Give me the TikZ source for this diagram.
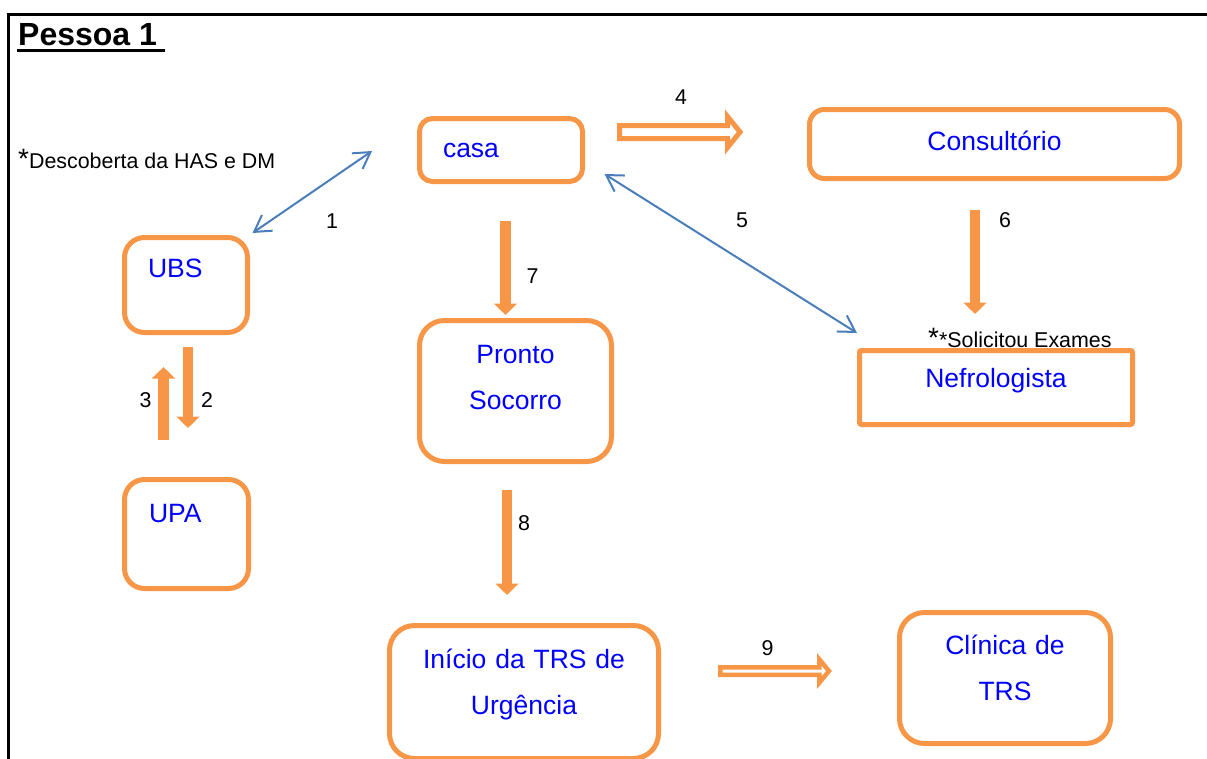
\documentclass[tikz,border=0pt]{standalone}
\usepackage{fontspec}
\setmainfont{Liberation Sans}
\usetikzlibrary{arrows.meta}
\definecolor{orng}{HTML}{F79646}
\definecolor{bluln}{HTML}{4A7EBB}
\definecolor{txtblue}{HTML}{0000FF}
\newcommand\boxfont{\fontsize{26.5}{46.5}\selectfont}
\newcommand\smfont{\fontsize{21.4}{25}\selectfont}
\newcommand\bigast{{\fontsize{28}{28}\selectfont*}}
\newcommand\titlefont{\fontsize{32}{36}\selectfont\bfseries}
\tikzset{
  box/.style={draw=orng, line width=5pt, text=txtblue, font=\boxfont, inner sep=0pt, text height=20pt},
  lbl/.style={font=\smfont, anchor=base, inner sep=0pt},
  blk/.style={draw=orng, line width=10.5pt, -{Triangle[length=11.5pt, width=22.5pt]}},
  blu/.style={draw=bluln, line width=2pt, {Straight Barb[length=16pt, width=19pt]}-{Straight Barb[length=16pt, width=19pt]}},
  hol/.style={draw=orng, fill=white, line join=miter},
}
\begin{document}
\begin{tikzpicture}[x=1pt, y=-1pt]
\useasboundingbox (0,0) rectangle (1207,758);
\begin{scope}
\clip (0,0) rectangle (1207,758);
% frame
\draw[line width=2.5pt] (8.3,760) -- (8.3,14.5) -- (1210,14.5);
% title
\node[font=\titlefont, anchor=base west, inner sep=0pt] (title) at (18,45) {Pessoa 1};
\coordinate (ul1) at (17,50);
\coordinate (ul2) at (165,50);
\draw[line width=3pt] (ul1) -- (ul2);
% note
\node[font=\smfont, anchor=base west, inner sep=0pt] (desc) at (18,168) {\bigast Descoberta da HAS e DM};
\node[font=\smfont, anchor=base west, inner sep=0pt] (sol) at (928,347) {\bigast*Solicitou Exames};
% boxes
\node[box, rounded corners=13pt, minimum width=163pt, minimum height=63pt, text width=116pt, align=left, text depth=6pt] (casa) at (501,150) {casa};
\node[box, rounded corners=15pt, minimum width=370pt, minimum height=69pt, text depth=8pt] (cons) at (994.5,144) {Consultório};
\node[box, rounded corners=20pt, minimum width=123pt, minimum height=95pt, text width=76pt, align=left, text depth=36pt] (ubs) at (186,285) {UBS};
\node[box, rounded corners=20pt, minimum width=124pt, minimum height=109pt, text width=75pt, align=left, text depth=44pt] (upa) at (186.5,534) {UPA};
\node[box, rounded corners=25pt, minimum width=192pt, minimum height=141pt, text width=170pt, align=center, text depth=76pt] (ps) at (515.5,391) {Pronto\\Socorro};
\node[box, rounded corners=2pt, minimum width=273pt, minimum height=74pt, text depth=21pt] (nef) at (996,387.5) {Nefrologista};
\node[box, rounded corners=25pt, minimum width=269pt, minimum height=133pt, text width=250pt, align=center, text depth=68pt] (inicio) at (524,692) {Início da TRS de\\Urgência};
\node[box, rounded corners=25pt, minimum width=211pt, minimum height=131pt, text width=190pt, align=center, text depth=68pt] (clin) at (1005,678) {Clínica de\\TRS};
% blue double arrows
\coordinate (b1a) at (252.5,233);
\coordinate (b1b) at (372,151);
\coordinate (b5a) at (604.5,174);
\coordinate (b5b) at (857,333);
\draw[blu] (b1a) -- (b1b);
\draw[blu] (b5a) -- (b5b);
% block arrows
\coordinate (a2s) at (188,347);   \coordinate (a2e) at (188,428);
\coordinate (a3s) at (163.5,440); \coordinate (a3e) at (163.5,367);
\coordinate (a6s) at (975,210);   \coordinate (a6e) at (975,314);
\coordinate (a7s) at (505.5,221); \coordinate (a7e) at (505.5,315);
\coordinate (a8s) at (507,490);   \coordinate (a8e) at (507,595);
\draw[blk] (a2s) -- (a2e);
\draw[blk] (a3s) -- (a3e);
\draw[blk] (a6s) -- (a6e);
\draw[blk] (a7s) -- (a7e);
\draw[blk] (a8s) -- (a8e);
% hollow arrows
\draw[hol, line width=5pt] (619.5,125.5) -- (727.5,125.5) -- (727.5,116.5) -- (740,132) -- (727.5,147.5) -- (727.5,138.5) -- (619.5,138.5) -- cycle;
\draw[hol, line width=4.5pt] (720.25,667.25) -- (819.25,667.25) -- (819.25,659.25) -- (829,671) -- (819.25,682.75) -- (819.25,674.75) -- (720.25,674.75) -- cycle;
% labels
\node[lbl] (l1) at (332,228) {1};
\node[lbl] (l2) at (207,407) {2};
\node[lbl] (l3) at (145.5,407) {3};
\node[lbl] (l4) at (681,104.5) {4};
\node[lbl] (l5) at (742,227.5) {5};
\node[lbl] (l6) at (1005,227.5) {6};
\node[lbl] (l7) at (532.5,283) {7};
\node[lbl] (l8) at (524,530.5) {8};
\node[lbl] (l9) at (767.5,655) {9};
\end{scope}
\end{tikzpicture}
\end{document}
